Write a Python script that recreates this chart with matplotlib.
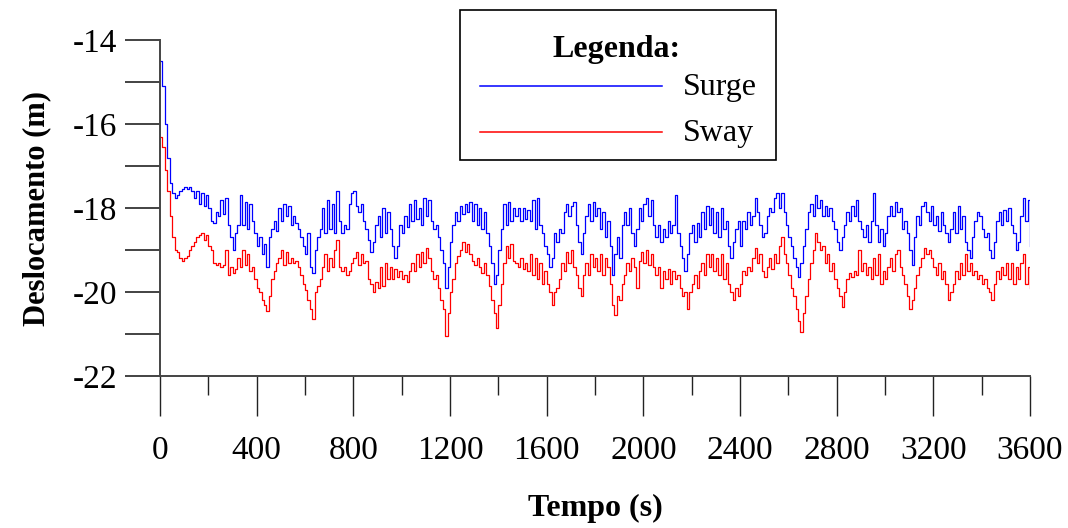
import numpy as np
import matplotlib
matplotlib.use("Agg")
import matplotlib.pyplot as plt
from matplotlib.ticker import MultipleLocator
from matplotlib.patches import Rectangle
from matplotlib.lines import Line2D

# tempo de amostragem (s)
tempo = np.arange(0, 3601, 10)

# deslocamento surge (m)
surge = [
    -14.5, -15.1, -16.0, -16.8, -17.4, -17.65, -17.75, -17.7, -17.6, -17.55, -17.5, -17.55, -17.5, -17.6, -17.75, -17.6, -17.9, -17.65, -17.95, -17.7,
    -18.0, -18.3, -18.35, -18.1, -18.2, -17.8, -18.15, -17.75, -18.4, -18.7, -19.0, -18.6, -18.4, -17.7, -18.4, -17.85, -18.5, -17.9, -18.3, -18.6,
    -18.9, -18.7, -19.1, -18.85, -19.4, -18.7, -18.5, -18.3, -18.55, -18.0, -18.3, -17.9, -18.2, -17.95, -18.4, -18.2, -18.35, -18.5, -18.7, -18.9,
    -19.1, -18.6, -19.4, -19.55, -19.0, -18.7, -18.5, -18.0, -18.6, -17.8, -18.5, -17.9, -18.6, -17.6, -18.3, -18.6, -18.4, -18.5, -17.9, -17.65,
    -17.6, -17.95, -18.1, -17.9, -18.3, -18.5, -18.75, -19.05, -18.8, -18.4, -18.2, -18.7, -18.0, -18.6, -18.1, -18.5, -18.9, -19.2, -18.9, -18.4,
    -18.6, -18.2, -18.45, -17.9, -18.3, -17.8, -18.25, -18.0, -18.4, -17.75, -18.2, -17.8, -18.3, -18.5, -18.4, -18.7, -19.0, -19.3, -19.9, -19.4,
    -18.8, -18.4, -18.1, -18.3, -17.95, -18.15, -17.9, -18.1, -17.85, -18.3, -17.9, -18.4, -18.0, -18.5, -18.1, -18.6, -18.9, -19.3, -19.8, -19.6,
    -19.0, -18.5, -17.9, -18.4, -17.85, -18.3, -18.0, -18.2, -18.0, -18.3, -18.0, -18.25, -18.05, -18.3, -17.8, -18.5, -17.75, -18.4, -18.6, -18.9,
    -19.1, -19.4, -19.2, -18.6, -18.8, -18.5, -18.6, -18.1, -17.9, -18.2, -17.95, -17.85, -18.4, -18.8, -19.1, -18.6, -18.2, -17.9, -18.3, -17.85,
    -18.2, -18.0, -18.5, -18.1, -18.7, -18.3, -18.9, -19.6, -19.1, -18.7, -19.2, -18.4, -18.1, -18.4, -18.0, -18.6, -18.9, -18.5, -18.0, -18.3,
    -17.9, -17.75, -18.2, -17.8, -18.4, -18.7, -18.4, -18.8, -18.5, -18.7, -18.3, -18.6, -18.4, -17.7, -18.6, -18.9, -19.2, -19.5, -19.1, -18.6,
    -18.4, -18.8, -18.35, -18.7, -18.1, -18.5, -17.95, -18.4, -18.0, -18.6, -18.1, -18.7, -18.0, -18.5, -18.3, -18.9, -19.2, -18.8, -18.5, -18.3,
    -18.9, -18.3, -18.5, -18.1, -18.4, -18.2, -17.75, -18.1, -18.4, -18.7, -18.6, -18.2, -18.0, -18.1, -17.75, -17.65, -18.0, -17.65, -18.1, -18.4,
    -18.7, -18.9, -19.2, -19.4, -19.65, -19.3, -18.9, -18.5, -18.1, -17.9, -18.2, -17.7, -18.0, -17.8, -18.2, -17.95, -18.2, -18.0, -18.3, -18.5,
    -18.8, -19.0, -18.7, -18.4, -18.1, -18.3, -17.95, -18.2, -17.8, -18.3, -18.5, -18.7, -18.4, -18.8, -18.3, -17.65, -18.4, -18.8, -18.5, -18.9,
    -18.6, -18.2, -17.95, -18.2, -17.85, -18.1, -18.0, -18.5, -18.3, -18.6, -19.0, -19.35, -18.7, -18.2, -18.4, -17.95, -17.85, -18.1, -18.3, -17.95,
    -18.4, -18.2, -18.55, -18.1, -18.4, -18.6, -18.8, -18.5, -18.1, -18.6, -17.95, -18.5, -18.2, -18.8, -19.0, -19.2, -18.7, -18.3, -18.1, -18.2,
    -18.5, -18.7, -18.6, -19.0, -19.2, -18.8, -18.3, -18.1, -18.4, -18.05, -18.3, -18.0, -18.4, -18.6, -19.0, -18.8, -18.2, -17.75, -18.3, -17.8,
    -18.9,
]

# deslocamento sway (m)
sway = [
    -16.3, -16.55, -17.1, -17.6, -18.2, -18.7, -19.0, -19.05, -19.2, -19.25, -19.2, -19.15, -19.0, -18.9, -18.8, -18.7, -18.65, -18.6, -18.75, -18.65,
    -18.9, -19.0, -19.3, -19.35, -19.3, -19.4, -19.35, -19.0, -19.6, -19.4, -19.55, -19.45, -19.2, -19.4, -19.0, -19.35, -19.1, -19.5, -19.4, -19.7,
    -19.9, -20.0, -20.2, -20.3, -20.45, -20.1, -19.7, -19.5, -19.3, -19.2, -19.0, -19.35, -19.05, -19.3, -19.2, -19.3, -19.25, -19.4, -19.6, -19.8,
    -19.95, -20.2, -20.4, -20.65, -20.0, -19.85, -19.7, -19.4, -19.1, -19.5, -19.2, -19.4, -19.0, -18.75, -19.4, -19.5, -19.4, -19.6, -19.5, -19.3,
    -19.2, -19.05, -19.35, -19.1, -19.3, -19.25, -19.7, -19.8, -20.0, -19.75, -19.9, -19.4, -19.85, -19.3, -19.7, -19.4, -19.7, -19.45, -19.65, -19.5,
    -19.7, -19.6, -19.75, -19.5, -19.3, -19.5, -19.1, -19.4, -19.05, -19.3, -18.95, -19.2, -19.5, -19.7, -19.6, -19.9, -20.2, -20.4, -21.05, -20.5,
    -20.0, -19.7, -19.3, -19.15, -19.0, -18.8, -19.05, -18.85, -19.1, -19.25, -19.35, -19.2, -19.4, -19.55, -19.3, -19.6, -19.85, -20.2, -20.5, -20.85,
    -20.3, -19.8, -19.3, -18.9, -19.2, -18.85, -19.25, -19.3, -19.4, -19.2, -19.45, -19.3, -19.5, -19.1, -19.6, -19.2, -19.7, -19.3, -19.8, -19.5,
    -19.8, -20.0, -20.3, -20.0, -19.9, -19.7, -19.3, -19.5, -19.05, -19.3, -19.0, -19.4, -19.6, -19.9, -20.1, -19.6, -19.3, -19.6, -19.1, -19.4,
    -19.2, -19.5, -19.1, -19.6, -19.2, -19.4, -19.8, -20.3, -20.55, -20.1, -20.2, -19.8, -19.6, -19.3, -19.5, -19.2, -19.4, -19.9, -19.25, -19.05,
    -19.3, -19.0, -19.35, -19.1, -19.4, -19.6, -19.4, -19.9, -19.5, -19.7, -19.45, -19.8, -19.5, -19.7, -19.6, -19.9, -20.1, -20.0, -20.4, -20.0,
    -19.8, -19.6, -19.9, -19.5, -19.3, -19.6, -19.1, -19.4, -19.1, -19.5, -19.2, -19.6, -19.1, -19.7, -19.3, -19.8, -20.0, -20.2, -19.9, -20.1,
    -19.8, -19.5, -19.6, -19.4, -19.5, -19.2, -18.95, -19.3, -19.1, -19.5, -19.65, -19.4, -19.2, -19.45, -19.1, -19.3, -18.9, -18.7, -19.1, -19.3,
    -19.6, -19.9, -20.1, -20.4, -20.7, -20.95, -20.5, -20.1, -19.7, -19.3, -19.0, -18.6, -18.8, -19.0, -18.9, -19.3, -19.1, -19.5, -19.3, -19.7,
    -19.9, -20.1, -20.35, -20.0, -19.7, -19.55, -19.65, -19.5, -19.6, -19.0, -19.5, -19.3, -19.6, -19.4, -19.7, -19.2, -19.6, -19.1, -19.8, -19.5,
    -19.7, -19.4, -19.2, -19.5, -19.1, -19.0, -19.4, -19.6, -19.8, -20.1, -20.4, -20.2, -19.9, -19.6, -19.4, -19.2, -18.95, -19.1, -19.0, -19.2,
    -19.4, -19.6, -19.3, -19.7, -19.5, -19.8, -20.2, -20.0, -19.8, -19.5, -19.7, -19.3, -19.6, -19.1, -19.5, -19.3, -19.6, -19.5, -19.7, -19.6,
    -19.8, -19.7, -19.9, -20.0, -20.2, -19.8, -19.5, -19.7, -19.4, -19.6, -19.3, -19.7, -19.3, -19.8, -19.4, -19.7, -19.3, -19.1, -19.8, -19.4,
    -19.9,
]

plt.rcParams["font.family"] = ["Liberation Serif", "DejaVu Serif"]
plt.rcParams["axes.unicode_minus"] = False

W, H = 1068, 528
fig = plt.figure(figsize=(W / 100, H / 100), dpi=100)
ax = fig.add_axes([160 / W, 1 - 376 / H, 870 / W, 336 / H])

ax.plot(tempo, surge, color="#0000ff", lw=0.9, drawstyle="steps-post")
ax.plot(tempo, sway, color="#ff0000", lw=0.9, drawstyle="steps-post")

ax.set_xlim(0, 3600)
ax.set_ylim(-22, -14)
ax.xaxis.set_major_locator(MultipleLocator(400))
ax.xaxis.set_minor_locator(MultipleLocator(200))
ax.yaxis.set_major_locator(MultipleLocator(2))
ax.yaxis.set_minor_locator(MultipleLocator(1))

for s in ["top", "right"]:
    ax.spines[s].set_visible(False)
for s in ["left", "bottom"]:
    ax.spines[s].set_color("#444444")
    ax.spines[s].set_linewidth(1.4)

ax.tick_params(axis="x", which="major", direction="out", length=29, width=1, color="#222222", labelsize=24, pad=14)
ax.tick_params(axis="x", which="minor", direction="out", length=14, width=1, color="#222222")
ax.tick_params(axis="y", which="both", direction="out", length=25, width=1.2, color="#222222", labelsize=24, pad=6)

ax.set_xlabel("Tempo (s)", fontsize=23, fontweight="bold", labelpad=20)
ax.set_ylabel("Deslocamento (m)", fontsize=22, fontweight="bold", labelpad=15)

# legenda desenhada à mão (caixa, título, linhas e textos)
def px(x, y):
    return x / W, 1 - y / H

x0, y0 = px(460, 160)
x1, y1 = px(776, 10)
fig.patches.append(Rectangle((x0, y0), x1 - x0, y1 - y0, transform=fig.transFigure,
                             facecolor="white", edgecolor="black", lw=1.2, zorder=5))
fig.text(*px(617, 49), "Legenda:", ha="center", va="center", fontsize=23, fontweight="bold", zorder=6)
for nome, cor, yl in [("Surge", "#0000ff", 86), ("Sway", "#ff0000", 132)]:
    xa, ya = px(480, yl)
    xb, _ = px(662, yl)
    fig.lines.append(Line2D([xa, xb], [ya, ya], transform=fig.transFigure, color=cor, lw=1.1, zorder=6))
    fig.text(*px(683, yl + 1), nome, ha="left", va="center", fontsize=23, zorder=6)

fig.savefig("out.png", dpi=100)
